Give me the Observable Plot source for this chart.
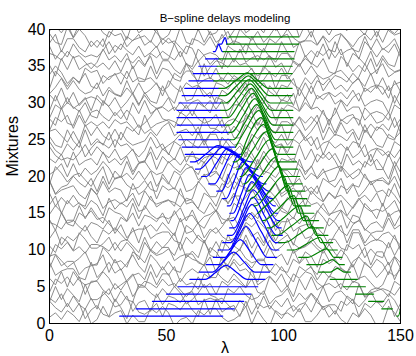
<!DOCTYPE html>
<html><head><meta charset="utf-8">
<script src="https://cdn.jsdelivr.net/npm/d3@7"></script>
<script src="https://cdn.jsdelivr.net/npm/@observablehq/plot@0.6"></script>
<style>body{margin:0;background:#fff} #chart svg{font-family:"Liberation Sans",Arial,sans-serif;background:#fff}</style>
</head><body><div id="chart"></div>
<script>
const title = "B−spline delays modeling";
const xLabel = "λ";
const yLabel = "Mixtures";
const xTicks = [0, 50, 100, 150];
const yTicks = [0, 5, 10, 15, 20, 25, 30, 35, 40];
const lambdaMax = 150;

// gray mixtures (k = 1..40): digits read as noise levels along λ
const noise = [
"463752813946715228696034175884235917307564822594731648501962",
"853737046219508324717648419293561827563046373946286917585917",
"648273161962370450837648935656305281715260348423307525944850",
"182741922471621985374850259430758423603471525281563093567648",
"286959177316370476485630394617586482196250839356463760343075",
"528184234850247118277152307585374192463717587316508356302869",
"935662192594603418273704648228695630853730757152764819625917",
"394660345917259419626219764818274637715217583075731685375083",
"563024711962307528699356621973168423394618275083485059177152",
"175846377648485084235281419219625917394693568537307571521827",
"307519622471563071525917485050831827394684237316621993565281",
"370425941758528193566219731684233946182750834850591771525630",
"764885376482603446374192370425941758528193566219731684233946",
"508328695630648276483946731693561758370446371962591760341827",
"485018273075419284232471603462197152853752812594563019629356",
"591746375083648239467648731628699356196217585630370484232471",
"715262196034247184234192307518272594485052818537563046371962",
"935673163946508359175630196228697648648246373704175825945281",
"603485371827842362195281259441927152485024713075370439466482",
"196256305917463737041758935673162869764850836482394684234192",
"247171524850182784238537528130756219259441926034563028695083",
"648293563946370459174637764817581962731656302869508352811827",
"842325948537247118275281603430754850621941927152508359174637",
"731637047648563039461758648219625083935628695917463760343075",
"621941925281842348502471182771523075853725946034764819621758",
"563050837316175846379356370464822869764819625917394618276219",
"286939464637563093567648508337041962731664825917175871525281",
"419218278537485025943075842360342471621971525281935619623704",
"175864821962508393564637286959177316370476485630394660343075",
"182724718537259484237152563076483704731659172869463793565083",
"528160343075485062194192394617586482196250839356463728695917",
"259484237152182724718537563076483704731659172869463793565083",
"196264821758394656302869935646375083591773163704764852816034",
"485030756034528118276219419271522471853725948423563039469356",
"508393564637286959177316370476485630394617586482196252818423",
"764856303946370417586482196250839356463773162869591752816219",
"715284232594853724711827603430754850621941925281935619626482",
"591773163704286946375630764839465083175893566482196218272471",
"621948503075603452814192182724718537259484237152563046372869",
"463717587316508356302869648237049356394659171962764852818423"
];
const noiseScale = 0.3;

// blue component, mixtures k = 0..38
const blueStart = [22,30,37,44,50,55,60,64,67,70,72,74,76,77,77.5,77,76,74,71.5,68,65,62.4,60.2,58,56.7,55.3,54.5,54.5,54.5,54.5,55.3,56.7,57.8,59.6,61.4,63.8,66.7,70,72.5];
const blueEnd   = [70,74,79,83,86,89,92,94,95.5,97,98,99,99.5,99,98.5,97.5,96.5,95.5,94,92.5,91,89,87,82,79.5,77.4,76.7,75.2,73.8,73.1,73.1,72.4,72.4,70.2,71.6,71.6,72.4,74.2,75.8];
const bluePeak  = [0,0,0,0,0,0,75.5,78.7,81.5,84,85.5,86.5,87,87,86.5,85.5,84,82.5,80.5,78.5,76,74,72,0,0,0,0,0,0,0,0,0,0,0,0,0,0,72.3,75];
const blueHeight= [0,0,0,0,0,0,1.9,2.7,3.4,4.2,5.0,5.2,5.2,5.2,5.3,5.3,5.2,5.0,4.8,4.4,3.8,3.0,2.2,0,0,0,0,0,0,0,0,0,0,0,0,0,0,1.0,0.9];
const blueLeftW = [0,0,0,0,0,0,9,9,9,9,9,9,9,8,8,7,7,7,7,8,9,10,10,0,0,0,0,0,0,0,0,0,0,0,0,0,0,1.5,1.5];
const blueRightW= [0,0,0,0,0,0,9,9,9,9,10,10,10,11,11,11,12,12,13,13,14,14,14,0,0,0,0,0,0,0,0,0,0,0,0,0,0,1.5,1.2];

// green component, mixtures k = 1..39
const greenStart = [148.5,142,136.4,130.8,125.5,120,115,110,106.5,101.6,98,95,93,91,89,87.5,86,84.5,83,81.5,80,78.5,82,79.5,77.4,76.7,75.2,73.8,73.1,73.1,72.4,72.4,70.2,71.6,71.6,72.4,74.2,75.8,76.7];
const greenEnd   = [153,146.5,142.8,138.5,135,131.5,128.6,126,125,123,121,119,117,115,113,111.5,110,109,108,107,106,105.5,105,104,104,104,104,104,104,103.7,103.7,103.7,103,103.7,103.7,104.5,104.5,106.5,106.5];
const greenPeak  = [152.5,0,0,0,0,0,123,121,118.5,115.5,112.5,110,107,104.5,102,100,98.2,96.6,95.3,94,92.7,91.5,90.5,89.5,88.6,87.8,87,86.3,85.8,85.3,85,84.6,0,0,0,0,0,0,0];
const greenHeight= [4,0,0,0,0,0,0.5,0.7,1.2,1.7,2.2,2.6,3.0,3.4,3.8,4.1,4.4,4.6,4.8,5.0,5.1,5.1,5.0,5.0,4.8,4.6,4.3,4.0,3.6,3.2,2.7,2.1,0,0,0,0,0,0,0];
const greenLeftW = [3.5,0,0,0,0,0,3,5,8,11,12,13,13,13,13,12,12,12,12,12,12,12,11,11,10,10,10,10,10,10,10,10,0,0,0,0,0,0,0];
const greenRightW= [3,0,0,0,0,0,3,3,3,3.5,3.5,4,4,4,4.5,4.5,5,5,5.5,6,6,6.5,7,7.5,8,8,8.5,8.5,9,9,9,9,0,0,0,0,0,0,0];

// ---- build tables for the library ----
const grayRows = [];
noise.forEach((s, i) => {
  const k = i + 1, n = s.length;
  for (let j = 0; j < n; j++) grayRows.push({k, x: j * lambdaMax / (n - 1), y: k + (+s[j] - 4.5) * noiseScale});
});

function knots(xs, xe, xc, h, wl, wr) {
  let p = h ? [[xs,0],[xc-wl,0],[xc-wl/2,0.5*h],[xc,h],[xc+wr/2,0.5*h],[xc+wr,0],[xe,0]] : [[xs,0],[xe,0]];
  p = p.filter(q => q[0] >= xs && q[0] <= xe).sort((a,b)=>a[0]-b[0]);
  const out = [];
  for (const q of p) if (!out.length || q[0] > out[out.length-1][0] + 1e-6) out.push(q);
  return out;
}
const blueRows = [];
blueStart.forEach((xs, k) => {
  for (const [x, d] of knots(xs, blueEnd[k], bluePeak[k], blueHeight[k], blueLeftW[k], blueRightW[k])) blueRows.push({k, x, y: k + d});
});
const greenRows = [];
greenStart.forEach((xs, i) => {
  const k = i + 1;
  for (const [x, d] of knots(xs, greenEnd[i], greenPeak[i], greenHeight[i], greenLeftW[i], greenRightW[i])) greenRows.push({k, x, y: k + d});
});

const chart = Plot.plot({
  width: 416, height: 356,
  marginLeft: 49, marginRight: 16, marginTop: 29, marginBottom: 33,
  style: {fontSize: "16px", fontFamily: "'Liberation Sans', Arial, sans-serif", background: "#fff"},
  x: {domain: [0, lambdaMax], ticks: xTicks, tickSize: 0, tickPadding: 6, label: null},
  y: {domain: [0, 40], ticks: yTicks, tickSize: 0, tickPadding: 4, label: null},
  marks: [
    Plot.line(grayRows, {x: "x", y: "y", z: "k", stroke: "#808080", strokeWidth: 0.9, clip: true}),
    Plot.line(blueRows, {x: "x", y: "y", z: "k", stroke: "#0000ff", strokeWidth: 1.2, curve: "monotone-x", clip: true}),
    Plot.line(greenRows, {x: "x", y: "y", z: "k", stroke: "#008000", strokeWidth: 1.2, curve: "monotone-x", clip: true}),
    Plot.frame({stroke: "#000", strokeWidth: 1}),
    Plot.text([title], {frameAnchor: "top", dy: -16, fontSize: 11.5, fill: "#000"}),
    Plot.text([yLabel], {frameAnchor: "left", dx: -37, rotate: -90, fontSize: 16, fill: "#000"}),
    Plot.text([xLabel], {frameAnchor: "bottom", dy: 29, fontSize: 16, fill: "#000"})
  ]
});
document.getElementById("chart").appendChild(chart);
</script>
</body></html>
